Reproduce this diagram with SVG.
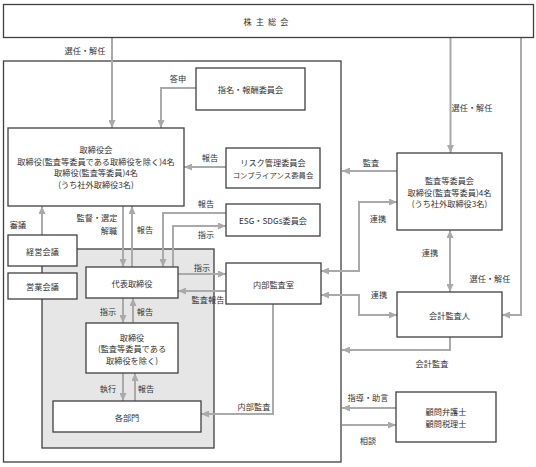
<svg xmlns="http://www.w3.org/2000/svg" width="536" height="467" viewBox="0 0 536 467">
<style>
.box{fill:#fff;stroke:#404040;stroke-width:1.3}
.gbox{fill:#e6e6e6;stroke:#404040;stroke-width:1.3}
.t{font-family:"Noto Sans CJK JP","Noto Sans CJK SC",sans-serif;font-size:8.2px;fill:#333;text-anchor:middle;dominant-baseline:central}
.s{font-size:7.4px}
.c{fill:none;stroke:#aaaaaa;stroke-width:2}
.a{marker-end:url(#ah)}
.b{marker-start:url(#ah);marker-end:url(#ah)}
</style>
<defs>
<marker id="ah" markerUnits="userSpaceOnUse" markerWidth="8" markerHeight="7" refX="8" refY="3.5" orient="auto-start-reverse">
<path d="M0,0 L8,3.5 L0,7 z" fill="#aaaaaa"/>
</marker>
</defs>
<rect width="536" height="467" fill="#fff"/>

<g id="outer"><rect class="box" x="3.5" y="61" width="337.5" height="401" fill="none"/></g>
<g id="exec-area"><rect class="gbox" x="42" y="249" width="172" height="199"/></g>

<g id="connectors">
<path class="c a" d="M112,37 V128"/>
<path class="c a" d="M196,88 H161 V128"/>
<path class="c a" d="M450.5,37 V153"/>
<path class="c a" d="M521,37 V315 H502"/>
<path class="c a" d="M226,167 H184"/>
<path class="c a" d="M123,206 V267"/>
<path class="c a" d="M132,267 V206"/>
<path class="c a" d="M42,235 V206"/>
<path class="c a" d="M226,213 H163 V267"/>
<path class="c a" d="M173,267 V226 H226"/>
<path class="c a" d="M178,274 H226"/>
<path class="c a" d="M226,291 H178"/>
<path class="c a" d="M123,298 V323"/>
<path class="c a" d="M133,323 V298"/>
<path class="c a" d="M123,373 V401"/>
<path class="c a" d="M135,401 V373"/>
<path class="c a" d="M273,304 V414 H201"/>
<path class="c a" d="M397,171 H342"/>
<path class="c b" d="M397,202 H359 V271 H321"/>
<path class="c b" d="M450,230 V292"/>
<path class="c b" d="M321,295 H359 V315 H397"/>
<path class="c a" d="M450,337 V350 H342"/>
<path class="c a" d="M396,408 H342"/>
<path class="c a" d="M342,425 H396"/>
</g>

<g id="labels">
<text class="t" x="85" y="50">選任・解任</text>
<text class="t" x="178" y="78">答申</text>
<text class="t" x="472" y="107">選任・解任</text>
<text class="t" x="210" y="157">報告</text>
<text class="t" x="371" y="162">監査</text>
<text class="t" x="206" y="203">報告</text>
<text class="t" x="378" y="218">連携</text>
<text class="t" x="97" y="217">監督・選定</text>
<text class="t" x="109" y="229.5">解職</text>
<text class="t" x="145" y="229">報告</text>
<text class="t" x="18" y="224">審議</text>
<text class="t" x="206" y="234">指示</text>
<text class="t" x="430" y="252">連携</text>
<text class="t" x="202" y="267">指示</text>
<text class="t" x="490" y="278">選任・解任</text>
<text class="t" x="379" y="294">連携</text>
<text class="t" x="208" y="299">監査報告</text>
<text class="t" x="108" y="311">指示</text>
<text class="t" x="145" y="311">報告</text>
<text class="t" x="432" y="363">会計監査</text>
<text class="t" x="108" y="388">執行</text>
<text class="t" x="146" y="388">報告</text>
<text class="t" x="368" y="397">指導・助言</text>
<text class="t" x="254" y="406">内部監査</text>
<text class="t" x="368" y="440">相談</text>
</g>

<g id="shareholders">
<rect class="box" x="3.5" y="4.5" width="530" height="33"/>
<text class="t" x="268" y="21" letter-spacing="4">株主総会</text>
</g>
<g id="nomination">
<rect class="box" x="196" y="68" width="109" height="42"/>
<text class="t" x="250.5" y="89">指名・報酬委員会</text>
</g>
<g id="board">
<rect class="box" x="8" y="128" width="176" height="78"/>
<text class="t" x="96" y="149">取締役会</text>
<text class="t" x="96" y="160.5">取締役(監査等委員である取締役を除く)4名</text>
<text class="t" x="96" y="172">取締役(監査等委員)4名</text>
<text class="t" x="96" y="183.5">(うち社外取締役3名)</text>
</g>
<g id="risk">
<rect class="box" x="226" y="148" width="94" height="40"/>
<text class="t" x="273" y="162">リスク管理委員会</text>
<text class="t s" x="273" y="174">コンプライアンス委員会</text>
</g>
<g id="esg">
<rect class="box" x="226" y="204" width="94" height="32"/>
<text class="t" x="273" y="220">ESG・SDGs委員会</text>
</g>
<g id="audit-committee">
<rect class="box" x="397" y="153" width="105" height="77"/>
<text class="t" x="449.5" y="180">監査等委員会</text>
<text class="t" x="449.5" y="191.5">取締役(監査等委員)4名</text>
<text class="t" x="449.5" y="203">(うち社外取締役3名)</text>
</g>
<g id="mgmt-meeting">
<rect class="box" x="8" y="235" width="69" height="31"/>
<text class="t" x="42.5" y="250.5">経営会議</text>
</g>
<g id="sales-meeting">
<rect class="box" x="8" y="273" width="69" height="26"/>
<text class="t" x="42.5" y="286">営業会議</text>
</g>
<g id="president">
<rect class="box" x="86" y="267" width="92" height="31"/>
<text class="t" x="132" y="283">代表取締役</text>
</g>
<g id="internal-audit">
<rect class="box" x="226" y="263" width="95" height="41"/>
<text class="t" x="273.5" y="284">内部監査室</text>
</g>
<g id="accounting-auditor">
<rect class="box" x="397" y="292" width="105" height="45"/>
<text class="t" x="449.5" y="315">会計監査人</text>
</g>
<g id="directors">
<rect class="box" x="86" y="323" width="92" height="50"/>
<text class="t" x="132" y="336.5">取締役</text>
<text class="t" x="132" y="348">(監査等委員である</text>
<text class="t" x="132" y="359.5">取締役を除く)</text>
</g>
<g id="departments">
<rect class="box" x="53" y="401" width="148" height="31"/>
<text class="t" x="127" y="417">各部門</text>
</g>
<g id="advisors">
<rect class="box" x="396" y="392" width="100" height="50"/>
<text class="t" x="446" y="411">顧問弁護士</text>
<text class="t" x="446" y="422.5">顧問税理士</text>
</g>
</svg>
